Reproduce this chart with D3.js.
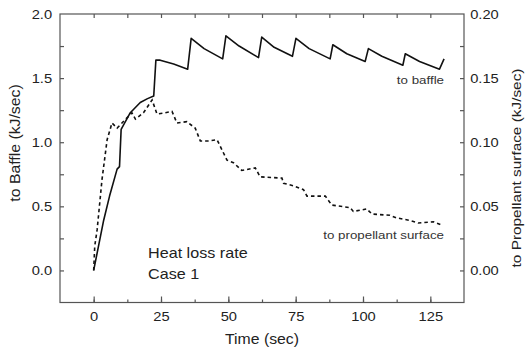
<!DOCTYPE html>
<html><head><meta charset="utf-8">
<script src="https://cdn.jsdelivr.net/npm/d3@7"></script>
<style>
body{margin:0;background:#fff;}
svg{font-family:"Liberation Sans",Arial,sans-serif;}
</style></head><body>
<svg id="c" width="525" height="352"></svg>
<script>
// Baffle heat loss rate (kJ/sec), left axis
const baffleTime = [0,3.7,5.9,8.7,9.6,10.2,13.6,17.3,20,22.3,23.1,24.7,29.7,34.9,36.2,41,47.9,49.1,54,61.2,62.4,67,73.8,75.1,80,87.8,88.8,94,100.8,102,107,114.8,115.7,121,128.4,130.1];
const baffleVals = [0,0.39,0.58,0.79,0.81,1.10,1.23,1.31,1.34,1.36,1.64,1.64,1.61,1.57,1.81,1.73,1.65,1.83,1.75,1.66,1.82,1.74,1.67,1.81,1.73,1.65,1.76,1.69,1.63,1.73,1.67,1.60,1.69,1.63,1.57,1.65];
// Propellant surface heat loss rate (kJ/sec), right axis
const propTime = [0,0.4,1.3,3.1,5,6.8,8.7,10.5,14.2,15.5,18.5,21.7,23.5,26.6,29.1,30.9,34.6,37.7,39.6,42.7,45.8,49.5,51.9,55,60,61.8,69.9,70.5,74.2,77.9,79.2,86,88.4,95.2,96.4,101.4,103.3,110,112.5,117.5,120.5,126.1,129.2];
const propVals = [0,0.019,0.032,0.071,0.102,0.115,0.111,0.115,0.123,0.118,0.123,0.133,0.122,0.123,0.124,0.115,0.116,0.111,0.101,0.101,0.102,0.086,0.084,0.078,0.080,0.073,0.072,0.068,0.066,0.063,0.058,0.058,0.051,0.049,0.046,0.048,0.044,0.043,0.041,0.039,0.037,0.038,0.0355];
const xTicks = [0,25,50,75,100,125];
const yLeftTicks = [0,0.5,1.0,1.5,2.0];
const yRightTicks = [0,0.05,0.10,0.15,0.20];

const svg = d3.select("#c");
const L=60, R=464, T=14, B=302.5;
const SX = 1.13; // horizontal text stretch seen in the reference
const x = d3.scaleLinear().domain([-12.5,137.5]).range([L,R]);
const yl = d3.scaleLinear().domain([-0.25,2.0]).range([B,T]);
const yr = d3.scaleLinear().domain([-0.025,0.20]).range([B,T]);

// frame
svg.append("rect").attr("x",L).attr("y",T).attr("width",R-L).attr("height",B-T)
  .attr("fill","none").attr("stroke","#555").attr("stroke-width",1.2);

function styleAxis(g){
  g.select(".domain").remove();
  g.selectAll("line").attr("stroke","#555").attr("stroke-width",1.2);
  g.selectAll("text").attr("fill","#222").style("font-size","13px").attr("transform",`scale(${SX},1)`);
}
const xMinor = d3.range(-12.5,138,12.5).filter(v=>v>-12.5&&v<137.5);
// bottom axis
svg.append("g").attr("transform",`translate(0,${B})`)
  .call(d3.axisBottom(x).tickValues(xMinor).tickSize(-3).tickFormat("")).call(styleAxis);
svg.append("g").attr("transform",`translate(0,${B})`)
  .call(d3.axisBottom(x).tickValues(xTicks).tickSize(-6).tickPadding(9).tickFormat(d3.format("d"))).call(styleAxis);
// top axis
svg.append("g").attr("transform",`translate(0,${T})`)
  .call(d3.axisTop(x).tickValues(xMinor).tickSize(-4).tickFormat("")).call(styleAxis);
// left axis
const ylMinor = d3.range(-0.25,2.01,0.25).filter(v=>v>-0.25&&v<1.99);
svg.append("g").attr("transform",`translate(${L},0)`)
  .call(d3.axisLeft(yl).tickValues(ylMinor).tickSize(-4).tickFormat("")).call(styleAxis);
svg.append("g").attr("transform",`translate(${L},0)`)
  .call(d3.axisLeft(yl).tickValues(yLeftTicks).tickSize(0).tickPadding(7).tickFormat(d3.format(".1f"))).call(styleAxis);
// right axis
const yrMinor = d3.range(-0.025,0.201,0.025).filter(v=>v>-0.02&&v<0.199);
svg.append("g").attr("transform",`translate(${R},0)`)
  .call(d3.axisRight(yr).tickValues(yrMinor).tickSize(-4).tickFormat("")).call(styleAxis);
svg.append("g").attr("transform",`translate(${R},0)`)
  .call(d3.axisRight(yr).tickValues(yRightTicks).tickSize(0).tickPadding(5.5).tickFormat(d3.format(".2f"))).call(styleAxis);

// lines
const lineL = d3.line().x(d=>x(d[0])).y(d=>yl(d[1]));
const lineR = d3.line().x(d=>x(d[0])).y(d=>yr(d[1]));
svg.append("path").datum(baffleTime.map((t,i)=>[t,baffleVals[i]]))
  .attr("d",lineL).attr("fill","none").attr("stroke","#111").attr("stroke-width",1.6).attr("stroke-linejoin","round");
svg.append("path").datum(propTime.map((t,i)=>[t,propVals[i]]))
  .attr("d",lineR).attr("fill","none").attr("stroke","#111").attr("stroke-width",1.6).attr("stroke-dasharray","3.5,3");

function txt(px,py,str,size,anchor,fill,rot){
  svg.append("text")
    .attr("transform",`translate(${px},${py})${rot?" rotate(-90)":""} scale(${SX},1)`)
    .attr("text-anchor",anchor).style("font-size",size+"px").attr("fill",fill).text(str);
}
// titles
txt((L+R)/2,344,"Time (sec)",14,"middle","#222");
txt(20,143,"to Baffle (kJ/sec)",14,"middle","#222",true);
txt(521,168,"to Propellant surface (kJ/sec)",13.6,"middle","#222",true);

// annotations
txt(148,258,"Heat loss rate",14.3,"start","#222");
txt(148,279,"Case 1",14.3,"start","#222");
txt(444,84,"to baffle",11.8,"end","#333");
txt(444,239,"to propellant surface",11.8,"end","#333");
</script></body></html>
